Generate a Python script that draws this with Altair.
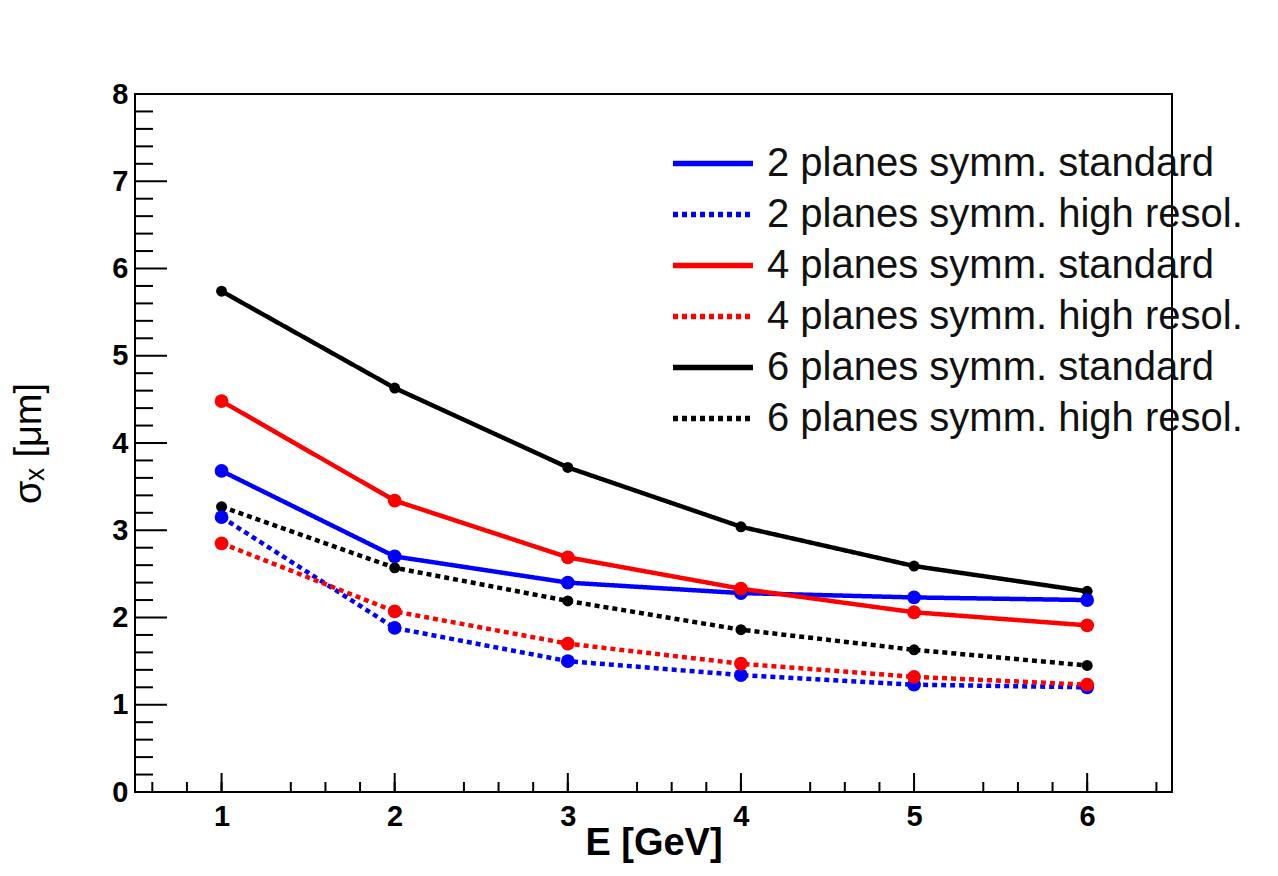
import altair as alt
import pandas as pd

# ---- data ----
energy = [1, 2, 3, 4, 5, 6]
series_names = [
    "2 planes symm. standard",
    "2 planes symm. high resol.",
    "4 planes symm. standard",
    "4 planes symm. high resol.",
    "6 planes symm. standard",
    "6 planes symm. high resol.",
]
two_std = [3.68, 2.70, 2.40, 2.28, 2.23, 2.20]
two_high = [3.15, 1.88, 1.50, 1.34, 1.23, 1.20]
four_std = [4.48, 3.34, 2.69, 2.33, 2.06, 1.91]
four_high = [2.85, 2.07, 1.70, 1.47, 1.32, 1.23]
six_std = [5.74, 4.63, 3.72, 3.04, 2.59, 2.30]
six_high = [3.27, 2.57, 2.19, 1.86, 1.63, 1.45]

series_colors = ["#0000ff", "#0000ff", "#ff0000", "#ff0000", "#000000", "#000000"]
series_dashes = [[1, 0], [5, 4], [1, 0], [5, 4], [1, 0], [5, 4]]

x_labels = [1, 2, 3, 4, 5, 6]
y_labels = [0, 1, 2, 3, 4, 5, 6, 7, 8]
y_minor = [round(i * 0.2, 1) for i in range(41) if i % 5 != 0]
x_minor = [round(0.6 + i * 0.2, 1) for i in range(30) if (i + 2) % 5 != 0 and 0.6 + i * 0.2 < 6.45]

# draw order: black, blue, red
order = [
    ("6 planes symm. standard", six_std),
    ("6 planes symm. high resol.", six_high),
    ("2 planes symm. standard", two_std),
    ("2 planes symm. high resol.", two_high),
    ("4 planes symm. standard", four_std),
    ("4 planes symm. high resol.", four_high),
]
rows = []
for name, vals in order:
    for e, v in zip(energy, vals):
        rows.append({"E": e, "s": v, "series": name})
df = pd.DataFrame(rows)

W, H = 1037, 698
FONT = "Liberation Sans"

xscale = alt.Scale(domain=[0.5, 6.49], nice=False, zero=False)
yscale = alt.Scale(domain=[0, 8], nice=False, zero=False)

legend = alt.Legend(
    orient="none", legendX=535, legendY=44, title=None,
    symbolType="stroke", symbolSize=6400, symbolStrokeWidth=5.5,
    labelFontSize=40, labelFont=FONT, labelColor="#111111",
    labelLimit=800, labelOffset=11, rowPadding=0, clipHeight=51,
)

x_axis = alt.Axis(
    values=x_labels, format="d", ticks=False, domain=False, grid=False,
    labelPadding=10, title="E [GeV]",
    titleX=W / 2, titleY=62, titleAlign="center", titleBaseline="alphabetic",
    titleFontWeight="bold",
)
y_axis = alt.Axis(
    values=y_labels, format="d", ticks=False, domain=False, grid=False,
    labelPadding=7, title="σₓ [μm]",
    titleX=-106, titleY=H / 2, titleAngle=-90, titleAlign="center",
    titleBaseline="middle", titleFontWeight="normal",
)

base = alt.Chart(df)

lines = base.mark_line(strokeWidth=4.5).encode(
    x=alt.X("E:Q", scale=xscale, axis=x_axis),
    y=alt.Y("s:Q", scale=yscale, axis=y_axis),
    color=alt.Color("series:N", scale=alt.Scale(domain=series_names, range=series_colors), legend=legend),
    strokeDash=alt.StrokeDash("series:N", scale=alt.Scale(domain=series_names, range=series_dashes), legend=legend),
    detail="series:N",
)

fill_enc = alt.Fill("series:N", scale=alt.Scale(domain=series_names, range=series_colors), legend=None)

pts_color = base.transform_filter(
    alt.FieldOneOfPredicate(field="series", oneOf=series_names[:4])
).mark_circle(size=190, opacity=1).encode(
    x=alt.X("E:Q", scale=xscale, axis=x_axis),
    y=alt.Y("s:Q", scale=yscale, axis=y_axis),
    fill=fill_enc,
)
pts_black = base.transform_filter(
    alt.FieldOneOfPredicate(field="series", oneOf=series_names[4:])
).mark_circle(size=120, opacity=1).encode(
    x=alt.X("E:Q", scale=xscale, axis=x_axis),
    y=alt.Y("s:Q", scale=yscale, axis=y_axis),
    fill=fill_enc,
)

ymaj_df = pd.DataFrame({"s": y_labels})
ymin_df = pd.DataFrame({"s": y_minor})
xmaj_df = pd.DataFrame({"E": x_labels})
xmin_df = pd.DataFrame({"E": x_minor})

ytick_major = alt.Chart(ymaj_df).mark_rule(color="black", strokeWidth=2).encode(
    y=alt.Y("s:Q", scale=yscale, axis=y_axis), x=alt.value(0), x2=alt.value(32))
ytick_minor = alt.Chart(ymin_df).mark_rule(color="black", strokeWidth=2).encode(
    y=alt.Y("s:Q", scale=yscale, axis=y_axis), x=alt.value(0), x2=alt.value(18))
xtick_major = alt.Chart(xmaj_df).mark_rule(color="black", strokeWidth=2).encode(
    x=alt.X("E:Q", scale=xscale, axis=x_axis), y=alt.value(H), y2=alt.value(H - 19))
xtick_minor = alt.Chart(xmin_df).mark_rule(color="black", strokeWidth=2).encode(
    x=alt.X("E:Q", scale=xscale, axis=x_axis), y=alt.value(H), y2=alt.value(H - 10))

chart = alt.layer(
    ytick_major, ytick_minor, xtick_major, xtick_minor, lines, pts_black, pts_color
).properties(
    width=W, height=H,
    autosize=alt.AutoSizeParams(type="none"),
    padding={"left": 127, "top": 86, "right": 90, "bottom": 72},
    background="white",
).configure_view(
    stroke="black", strokeWidth=2
).configure_axis(
    labelFont=FONT, labelFontSize=29, labelFontWeight="bold", labelColor="black",
    titleFont=FONT, titleFontSize=38, titleColor="black",
)

chart.save("out.html", embed_options={"renderer": "svg", "actions": False})
